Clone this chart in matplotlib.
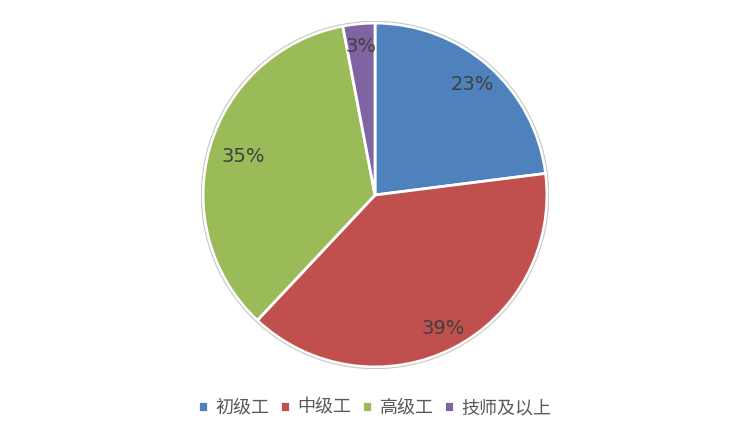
import matplotlib
matplotlib.use("Agg")
import numpy as np
import matplotlib.pyplot as plt
import matplotlib.patches as patches

plt.rcParams['font.family'] = ['Noto Sans CJK SC', 'DejaVu Sans']

categories = ['初级工', '中级工', '高级工', '技师及以上']
values = [23, 39, 35, 3]
colors = ['#4f81bd', '#c0504d', '#9bbb59', '#8064a2']
label_radius = [0.86, 0.87, 0.80, 0.87]

fig = plt.figure(figsize=(7.5, 4.38), dpi=100)
# pie centre at (375,195) px, radius ~172 px
half = 174
ax = fig.add_axes([(375 - half) / 750, (438 - 195 - half) / 438, 2 * half / 750, 2 * half / 438])

wedges, texts, autotexts = ax.pie(
    values, colors=colors, startangle=90, counterclock=False,
    autopct='%d%%', pctdistance=0.84,
    wedgeprops=dict(edgecolor='white', linewidth=2),
    textprops=dict(color='#404040', fontsize=14, family='DejaVu Sans'))

# excel-like label placement, slightly different radius per slice
for w, t, r in zip(wedges, autotexts, label_radius):
    ang = np.deg2rad((w.theta1 + w.theta2) / 2)
    t.set_position((r * np.cos(ang), r * np.sin(ang)))

# thin grey rim round the pie
ax.add_patch(patches.Circle((0, 0), 1.01, fill=False, edgecolor='#c8c8c8', linewidth=0.8))
lim = 1.012
ax.set_xlim(-lim, lim)
ax.set_ylim(-lim, lim)
ax.set_aspect('equal')
ax.axis('off')

fig.legend(wedges, categories, loc='center', bbox_to_anchor=(0.5, 1 - 408 / 438),
           ncol=4, frameon=False, fontsize=13, handlelength=0.55, handleheight=0.55,
           handletextpad=0.4, columnspacing=0.6, labelcolor='#595959')

fig.savefig('out.png', dpi=100)
